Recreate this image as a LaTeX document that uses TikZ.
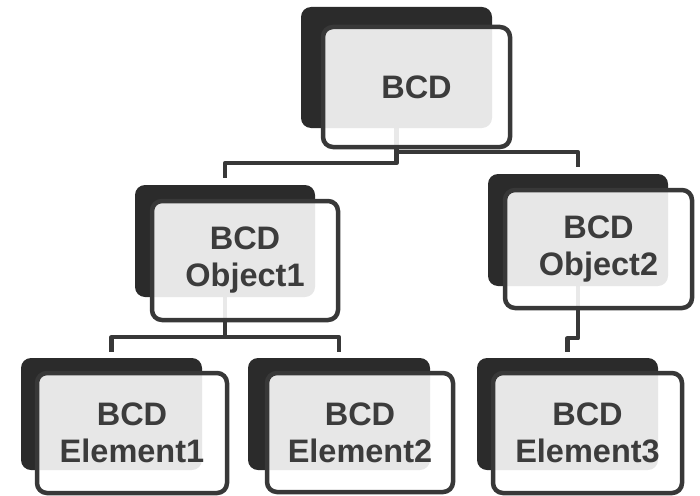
\documentclass[tikz,border=0pt]{standalone}
\usepackage{fontspec}
\setmainfont{Liberation Sans}
\usetikzlibrary{backgrounds}
\definecolor{backc}{HTML}{2B2B2B}
\definecolor{linec}{HTML}{383838}
\definecolor{textc}{HTML}{3C3C3C}
\begin{document}
\begin{tikzpicture}[x=1pt,y=-1pt,
  backbox/.style={rounded corners=10pt, fill=backc, minimum width=181pt, minimum height=112pt, inner sep=0pt},
  frontbox/.style={rounded corners=10pt, draw=linec, line width=4.5pt, fill=white, fill opacity=0.89, text opacity=1, minimum width=188pt, minimum height=119pt, inner sep=0pt, align=center, font=\bfseries\fontsize{32.5}{37}\selectfont, text=textc},
  conn/.style={draw=linec, line width=4.5pt, line join=round}]
\useasboundingbox (0,0) rectangle (700,495);
% top
\node[backbox, minimum width=191pt, minimum height=121pt] (b0) at (396.5,67.5) {};
\node[frontbox, minimum width=187pt, minimum height=120pt] (f0) at (416.5,87) {BCD};
% level 2
\node[backbox, minimum width=180pt] (b1) at (225,241) {};
\node[frontbox, minimum width=186pt] (f1) at (245,260.5) {BCD\\Object1};
\node[backbox, minimum width=180pt] (b2) at (578,230) {};
\node[frontbox, minimum width=187pt, minimum height=118pt] (f2) at (598.5,249) {BCD\\Object2};
% level 3
\node[backbox] (b3) at (111.5,414) {};
\node[frontbox, minimum width=190pt, minimum height=120pt] (f3) at (132,433) {BCD\\Element1};
\node[backbox, minimum width=182pt] (b4) at (339,414) {};
\node[frontbox, minimum width=186pt] (f4) at (360,432.5) {BCD\\Element2};
\node[backbox] (b5) at (567.5,414) {};
\node[frontbox, minimum width=189pt, minimum height=120pt] (f5) at (587.5,433) {BCD\\Element3};
\begin{pgfonlayer}{background}
\draw[conn] (b0.south) -- ++(0,35) -| ([yshift=7pt]b1.north);
\draw[conn] (b0.south) -- ++(0,24) -| ([yshift=7pt]b2.north);
\draw[conn] (b1.south) -- ++(0,40) -| ([yshift=6pt]b3.north);
\draw[conn] (b1.south) -- ++(0,40) -| ([yshift=6pt]b4.north);
\draw[conn] (b2.south) -- ++(0,52) -| ([yshift=6pt]b5.north);
\end{pgfonlayer}
\end{tikzpicture}
\end{document}
